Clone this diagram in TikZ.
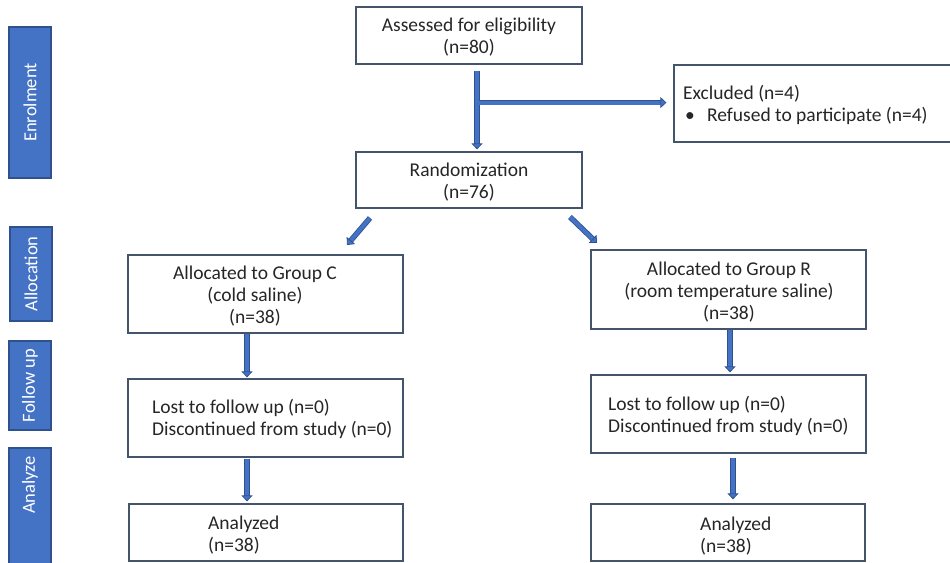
\documentclass[tikz,border=0pt]{standalone}
\usepackage{fontspec}
\setmainfont{Carlito}
\usetikzlibrary{arrows.meta,calc}
\definecolor{bfill}{HTML}{4472C4}
\definecolor{bline}{HTML}{2F528F}
\definecolor{boxline}{HTML}{44546A}
\definecolor{txt}{HTML}{262626}
\begin{document}
\begin{tikzpicture}[x=1pt,y=-1pt,
  font=\fontsize{19.5}{22}\selectfont,
  box/.style={draw=boxline, line width=1.2pt, inner sep=0pt, fill=white},
  side/.style={draw=bline, line width=1.2pt, fill=bfill, inner sep=0pt, rotate=90,
    text=white, font=\fontsize{18.5}{22}\selectfont},
  sidelabel/.style={text=white, rotate=90, inner sep=0pt, font=\fontsize{18.5}{22}\selectfont},
  txtc/.style={align=center, text=txt, inner sep=0pt},
  txtl/.style={align=left, text=txt, inner sep=0pt, anchor=west},
  flow/.style={draw=bline, line width=0.8pt, double=bfill, double distance=3.9pt,
    -{Triangle[length=6pt,width=11pt,fill=bfill]}}
]
\useasboundingbox (0,0) rectangle (950,562);

% phase bars
\node[side, minimum width=151pt, minimum height=42pt] (sEnr) at (30,102.5) {Enrolment};
\node[side, minimum width=94pt, minimum height=42pt] (sAll) at (31,274) {Allocation};
\node[side, minimum width=89pt, minimum height=42pt] (sFol) at (30,385.5) {Follow up};
\node[side, minimum width=118pt, minimum height=42pt] (sAna) at (30,507) {};
\node[sidelabel] (lAna) at (30,485) {Analyze};

% boxes
\node[box, minimum width=226pt, minimum height=57pt] (assess) at (469,35.5) {};
\node[box, minimum width=226pt, minimum height=56pt] (random) at (469,180) {};
\node[box, minimum width=286pt, minimum height=77pt] (excl) at (817,103.5) {};
\node[box, minimum width=275pt, minimum height=78pt] (grpC) at (265.5,294) {};
\node[box, minimum width=275pt, minimum height=78pt] (folC) at (265.5,418) {};
\node[box, minimum width=274pt, minimum height=57pt] (anaC) at (266,532.5) {};
\node[box, minimum width=275pt, minimum height=79pt] (grpR) at (728.5,289.5) {};
\node[box, minimum width=275pt, minimum height=78pt] (folR) at (728.5,414) {};
\node[box, minimum width=274pt, minimum height=57pt] (anaR) at (728,532.5) {};

% texts
\node[txtc] (tAssess) at (469,37) {Assessed for eligibility\\(n=80)};
\node[txtc] (tRand) at (469,182) {Randomization\\(n=76)};
\node[txtl] (tExcl) at (683,105) {Excluded (n=4)\\\hspace{2pt}\makebox[22pt][l]{•}Refused to participate (n=4)};
\node[txtc] (tGrpC) at (255,296) {Allocated to Group C\\(cold saline)\\(n=38)};
\node[txtl] (tFolC) at (152,419) {Lost to follow up (n=0)\\Discontinued from study (n=0)};
\node[txtl] (tAnaC) at (208,535) {Analyzed\\(n=38)};
\node[txtc] (tGrpR) at (729,292) {Allocated to Group R\\(room temperature saline)\\(n=38)};
\node[txtl] (tFolR) at (608,416) {Lost to follow up (n=0)\\Discontinued from study (n=0)};
\node[txtl] (tAnaR) at (700,536) {Analyzed\\(n=38)};

% connectors
\coordinate (j) at ($(assess.south)+(10,38)$);
\draw[flow] ($(assess.south)+(8,6)$) -- ($(random.north)+(8,-2)$);
\draw[flow, shorten >=7pt] (j) -- (j -| excl.west);
\coordinate (dl1) at (370,218);
\coordinate (dl2) at (347,245);
\coordinate (dr1) at (570,217);
\coordinate (dr2) at (597,243);
\draw[flow] (dl1) -- (dl2);
\draw[flow] (dr1) -- (dr2);
\draw[flow] ($(grpC.south)+(-18.5,0)$) -- ($(folC.north)+(-18.5,-1)$);
\draw[flow] ($(folC.south)+(-18.5,1)$) -- ($(anaC.north)+(-19,-2)$);
\draw[flow] ($(grpR.south)+(1.5,0)$) -- ($(folR.north)+(1.5,-2)$);
\draw[flow] ($(folR.south)+(4.5,4)$) -- ($(anaR.north)+(5,-4)$);
\end{tikzpicture}
\end{document}
